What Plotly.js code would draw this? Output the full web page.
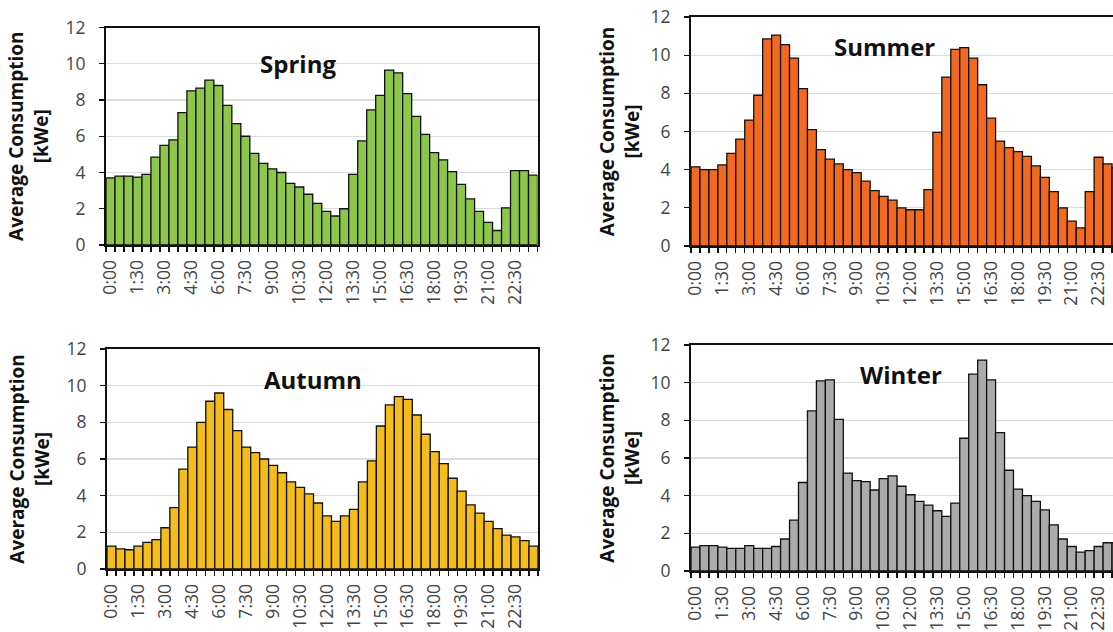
<!DOCTYPE html>
<html>
<head>
<meta charset="utf-8">
<script src="https://cdn.plot.ly/plotly-3.0.1.min.js"></script>
<style>
html, body { margin:0; padding:0; overflow:hidden; background:#fff; }
#chart { width:1130px; height:632px; }
</style>
</head>
<body>
<div id="chart"></div>
<script>
// Half-hour time slots (categories)
var times = ["0:00","0:30","1:00","1:30","2:00","2:30","3:00","3:30","4:00","4:30","5:00","5:30",
             "6:00","6:30","7:00","7:30","8:00","8:30","9:00","9:30","10:00","10:30","11:00","11:30",
             "12:00","12:30","13:00","13:30","14:00","14:30","15:00","15:30","16:00","16:30","17:00","17:30",
             "18:00","18:30","19:00","19:30","20:00","20:30","21:00","21:30","22:00","22:30","23:00","23:30"];

// Average consumption [kWe] per season
var spring = [3.7,3.8,3.8,3.75,3.9,4.85,5.5,5.8,7.3,8.5,8.65,9.1,8.8,7.7,6.7,6.0,5.05,4.5,4.2,4.0,3.4,3.2,2.8,2.3,
              1.85,1.6,2.0,3.9,5.75,7.45,8.25,9.65,9.5,8.35,7.1,6.1,5.1,4.7,4.05,3.35,2.55,1.85,1.25,0.8,2.05,4.1,4.1,3.85];
var summer = [4.15,4.0,4.0,4.25,4.85,5.6,6.6,7.9,10.85,11.05,10.55,9.85,8.25,6.1,5.05,4.55,4.3,4.0,3.85,3.4,2.9,2.6,2.4,2.0,
              1.9,1.9,2.95,5.95,8.85,10.3,10.4,9.85,8.45,6.7,5.5,5.15,4.95,4.7,4.2,3.6,2.85,2.0,1.3,0.95,2.85,4.65,4.3,4.1];
var autumn = [1.25,1.1,1.05,1.25,1.45,1.6,2.25,3.35,5.45,6.65,8.0,9.15,9.6,8.7,7.55,6.65,6.35,6.0,5.65,5.25,4.75,4.45,4.1,3.6,
              2.9,2.6,2.9,3.25,4.75,5.9,7.8,8.95,9.4,9.25,8.4,7.35,6.4,5.75,4.95,4.25,3.5,3.05,2.6,2.2,1.85,1.75,1.55,1.25];
var winter = [1.27,1.35,1.35,1.27,1.2,1.2,1.35,1.2,1.2,1.3,1.7,2.7,4.7,8.5,10.1,10.15,8.05,5.2,4.8,4.75,4.3,4.9,5.05,4.5,
              4.05,3.7,3.5,3.2,2.9,3.6,7.05,10.45,11.2,10.15,7.35,5.35,4.35,4.0,3.7,3.25,2.45,1.7,1.3,1.0,1.08,1.3,1.5,1.5];

var seasonNames = ["Spring","Summer","Autumn","Winter"];
var yTitle = "Average Consumption<br>[kWe]";

var W = 1130, H = 632;
var FONT = "Open Sans, sans-serif";

function bar(vals, color, xa, ya, name) {
  return {
    type: "bar", x: times, y: vals, xaxis: xa, yaxis: ya, name: name,
    marker: { color: color, line: { color: "#111", width: 1.3 } },
    hoverinfo: "x+y"
  };
}

var data = [
  bar(spring, "#8DC64B", "x", "y", seasonNames[0]),
  bar(summer, "#F26A21", "x2", "y2", seasonNames[1]),
  bar(autumn, "#F5BC1E", "x3", "y3", seasonNames[2]),
  bar(winter, "#ABABAB", "x4", "y4", seasonNames[3])
];

function xax(dom, anchor) {
  return {
    domain: dom, anchor: anchor, type: "category",
    categoryorder: "array", categoryarray: times,
    range: [-0.5, 47.5], tickmode: "linear", tick0: 0, dtick: 1,
    tickson: "boundaries", ticklabelstep: 3, ticklabelstandoff: 6,
    ticks: "outside", ticklen: 5, tickwidth: 1.3, tickcolor: "#111",
    tickangle: -90, showgrid: false, showline: true, linecolor: "#111", linewidth: 2,
    mirror: true, automargin: false, fixedrange: true,
    tickfont: { family: FONT, size: 17.5, color: "#454545" }
  };
}
function yax(dom, anchor, standoff) {
  return {
    domain: dom, anchor: anchor, range: [0, 12], dtick: 2, tick0: 0,
    ticks: "outside", ticklen: 5, tickwidth: 1.3, tickcolor: "#111",
    ticklabelstandoff: 10,
    showgrid: true, gridcolor: "#dcdcdc", gridwidth: 1.2, zeroline: false,
    showline: true, linecolor: "#111", linewidth: 2, mirror: true,
    automargin: false, fixedrange: true,
    tickfont: { family: FONT, size: 17.5, color: "#454545" },
    title: { text: yTitle, standoff: standoff,
             font: { family: FONT, size: 19, color: "#111", weight: "bold" } }
  };
}

function px(v) { return v / W; }
function py(v) { return (H - v) / H; }

function titleAnn(text, cx, cy) {
  return { text: "<b>" + text + "</b>", xref: "paper", yref: "paper",
           x: px(cx), y: py(cy), xanchor: "center", yanchor: "middle", showarrow: false,
           font: { family: FONT, size: 24, color: "#111" } };
}

var layout = {
  width: W, height: H,
  margin: { l: 0, r: 0, t: 0, b: 0 },
  paper_bgcolor: "#fff", plot_bgcolor: "#fff",
  showlegend: false, bargap: 0,
  xaxis:  xax([px(106), px(537.5)], "y"),
  yaxis:  yax([py(245), py(27.5)], "x", 12),
  xaxis2: xax([px(691), px(1121)], "y2"),
  yaxis2: yax([py(246), py(17)], "x2", 6),
  xaxis3: xax([px(107), px(538)], "y3"),
  yaxis3: yax([py(569), py(349)], "x3", 12),
  xaxis4: xax([px(691), px(1121)], "y4"),
  yaxis4: yax([py(571), py(345)], "x4", 6),
  annotations: [
    titleAnn(seasonNames[0], 298, 64),
    titleAnn(seasonNames[1], 884, 47),
    titleAnn(seasonNames[2], 313, 379),
    titleAnn(seasonNames[3], 901, 374)
  ]
};

Plotly.newPlot("chart", data, layout, { displayModeBar: false, staticPlot: true });
</script>
</body>
</html>
